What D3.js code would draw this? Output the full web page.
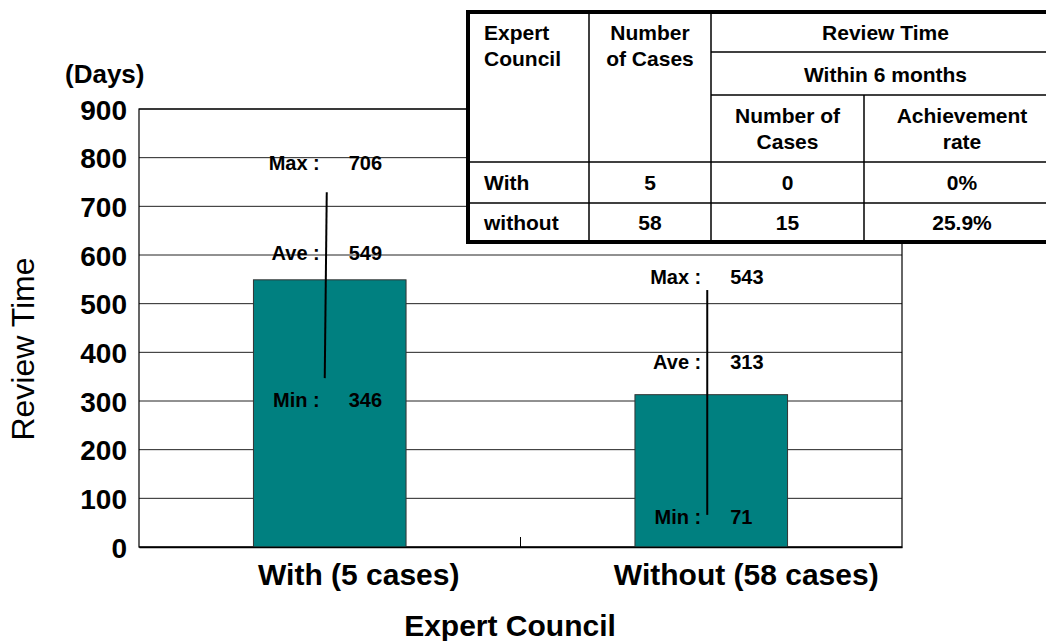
<!DOCTYPE html>
<meta charset="utf-8">
<style>
body { margin: 0; background: #fff; }
text { font-family: Arial, "Liberation Sans", sans-serif; fill: #000; }
.bar { fill: #008080; stroke: #333; stroke-width: 1; }
.grid line { stroke: #222; stroke-width: 1; }
</style>
<body>
<script src="https://cdn.jsdelivr.net/npm/d3@7"></script>
<script>

// chart data
var categories = ["With (5 cases)", "Without (58 cases)"];
var aveDays = [549, 313];
var maxDays = [706, 543];
var minDays = [346, 71];
// ends of the vertical range line as drawn in the picture
var lineTop = [729, 528];
var lineBottom = [347, 66];
var yTicks = [0, 100, 200, 300, 400, 500, 600, 700, 800, 900];

// table data
var councilRows = ["With", "without"];
var caseCounts = ["5", "58"];
var within6Counts = ["0", "15"];
var achieveRates = ["0%", "25.9%"];

var width = 1046, height = 641;
var plot = {left: 139, right: 902, top: 109, bottom: 547};

var svg = d3.select("body").append("svg")
    .attr("width", width)
    .attr("height", height);

var x = d3.scaleBand()
    .domain(categories)
    .range([plot.left, plot.right])
    .paddingInner(0.6)
    .paddingOuter(0.3);

var y = d3.scaleLinear()
    .domain([0, 900])
    .range([plot.bottom, plot.top]);

// gridlines
svg.append("g")
    .attr("class", "grid")
    .selectAll("line")
    .data(yTicks)
  .enter().append("line")
    .attr("x1", plot.left)
    .attr("x2", plot.right)
    .attr("y1", function(d) { return y(d); })
    .attr("y2", function(d) { return y(d); });

// frame
svg.append("rect")
    .attr("x", plot.left)
    .attr("y", plot.top)
    .attr("width", plot.right - plot.left)
    .attr("height", plot.bottom - plot.top)
    .attr("fill", "none")
    .attr("stroke", "#000")
    .attr("stroke-width", 1.2);

// bars
svg.selectAll(".bar")
    .data(categories)
  .enter().append("rect")
    .attr("class", "bar")
    .attr("x", function(d) { return x(d); })
    .attr("width", x.bandwidth())
    .attr("y", function(d, i) { return y(aveDays[i]); })
    .attr("height", function(d, i) { return y(0) - y(aveDays[i]); });

// y axis (labels only, the gridlines act as ticks)
var yAxis = svg.append("g")
    .attr("transform", "translate(" + plot.left + ",0)")
    .call(d3.axisLeft(y).tickValues(yTicks).tickSize(0).tickPadding(12));
yAxis.select(".domain").remove();
yAxis.selectAll("text")
    .style("font-size", "28px")
    .style("font-weight", "bold")
    .attr("dy", "0.36em");

// x axis
var xAxis = svg.append("g")
    .attr("transform", "translate(0," + plot.bottom + ")")
    .call(d3.axisBottom(x).tickSize(0).tickPadding(0));
xAxis.select(".domain").attr("stroke", "#000").attr("stroke-width", 1.5);
xAxis.selectAll("text")
    .attr("dx", function(d, i) { return i == 0 ? 29 : 35; })
    .attr("y", 38)
    .attr("dy", 0)
    .style("font-size", "30px")
    .style("font-weight", "bold");

// divider tick between categories
svg.append("line")
    .attr("x1", (plot.left + plot.right) / 2)
    .attr("x2", (plot.left + plot.right) / 2)
    .attr("y1", plot.bottom)
    .attr("y2", plot.bottom - 10)
    .attr("stroke", "#000");

// range lines
var lineX = function(i) { return x(categories[i]) + x.bandwidth() / 2 - 4; };
svg.selectAll(".range")
    .data(categories)
  .enter().append("line")
    .attr("class", "range")
    .attr("x1", function(d, i) { return lineX(i) + (i == 0 ? 1 : 0); })
    .attr("x2", function(d, i) { return lineX(i) - (i == 0 ? 1 : 0); })
    .attr("y1", function(d, i) { return y(lineTop[i]); })
    .attr("y2", function(d, i) { return y(lineBottom[i]); })
    .attr("stroke", "#000")
    .attr("stroke-width", 2);

// Max / Ave / Min labels
var labelOffsets = [[-40, -27, 21], [-6, -33, 5]];
categories.forEach(function(c, i) {
  var items = [["Max :", maxDays[i]], ["Ave :", aveDays[i]], ["Min :", minDays[i]]];
  items.forEach(function(it, k) {
    var cy = y(it[1]) + labelOffsets[i][k] + 7;
    svg.append("text")
        .attr("x", lineX(i) - 6)
        .attr("y", cy)
        .attr("text-anchor", "end")
        .style("font-size", "20px")
        .style("font-weight", "bold")
        .text(it[0]);
    svg.append("text")
        .attr("x", lineX(i) + 23)
        .attr("y", cy)
        .style("font-size", "20px")
        .style("font-weight", "bold")
        .text(it[1]);
  });
});

// axis titles
svg.append("text")
    .attr("x", 65)
    .attr("y", 83)
    .style("font-size", "26px")
    .style("font-weight", "bold")
    .text("(Days)");

svg.append("text")
    .attr("transform", "translate(34,349) rotate(-90)")
    .attr("text-anchor", "middle")
    .style("font-size", "32px")
    .text("Review Time");

svg.append("text")
    .attr("x", 510)
    .attr("y", 636)
    .attr("text-anchor", "middle")
    .style("font-size", "30px")
    .style("font-weight", "bold")
    .text("Expert Council");

// summary table
var cols = [468, 589, 711, 864, 1060];
var rows = [12, 52, 95, 162, 203, 242];
var tbl = svg.append("g");

tbl.append("rect")
    .attr("x", cols[0])
    .attr("y", rows[0])
    .attr("width", cols[4] - cols[0])
    .attr("height", rows[5] - rows[0])
    .attr("fill", "#fff");

function tline(x1, y1, x2, y2) {
  tbl.append("line")
      .attr("x1", x1).attr("y1", y1)
      .attr("x2", x2).attr("y2", y2)
      .attr("stroke", "#000")
      .attr("stroke-width", 1.5);
}
tline(cols[1], rows[0], cols[1], rows[5]);
tline(cols[2], rows[0], cols[2], rows[5]);
tline(cols[3], rows[2], cols[3], rows[5]);
tline(cols[2], rows[1], cols[4], rows[1]);
tline(cols[2], rows[2], cols[4], rows[2]);
tline(cols[0], rows[3], cols[4], rows[3]);
tline(cols[0], rows[4], cols[4], rows[4]);

tbl.append("rect")
    .attr("x", cols[0])
    .attr("y", rows[0])
    .attr("width", cols[4] - cols[0])
    .attr("height", rows[5] - rows[0])
    .attr("fill", "none")
    .attr("stroke", "#000")
    .attr("stroke-width", 4);

function ttext(str, tx, ty, anchor) {
  tbl.append("text")
      .attr("x", tx)
      .attr("y", ty)
      .attr("text-anchor", anchor)
      .style("font-size", "21px")
      .style("font-weight", "bold")
      .text(str);
}
var mid = function(a, b) { return (a + b) / 2; };
var pad = 16;

ttext("Expert", cols[0] + pad, 40, "start");
ttext("Council", cols[0] + pad, 66, "start");
ttext("Number", mid(cols[1], cols[2]), 40, "middle");
ttext("of Cases", mid(cols[1], cols[2]), 66, "middle");
ttext("Review Time", mid(cols[2], cols[4]), 40, "middle");
ttext("Within 6 months", mid(cols[2], cols[4]), 82, "middle");
ttext("Number of", mid(cols[2], cols[3]), 123, "middle");
ttext("Cases", mid(cols[2], cols[3]), 149, "middle");
ttext("Achievement", mid(cols[3], cols[4]), 123, "middle");
ttext("rate", mid(cols[3], cols[4]), 149, "middle");

councilRows.forEach(function(r, i) {
  var ty = mid(rows[3 + i], rows[4 + i]) + 7;
  ttext(r, cols[0] + pad, ty, "start");
  ttext(caseCounts[i], mid(cols[1], cols[2]), ty, "middle");
  ttext(within6Counts[i], mid(cols[2], cols[3]), ty, "middle");
  ttext(achieveRates[i], mid(cols[3], cols[4]), ty, "middle");
});

</script>
</body>
